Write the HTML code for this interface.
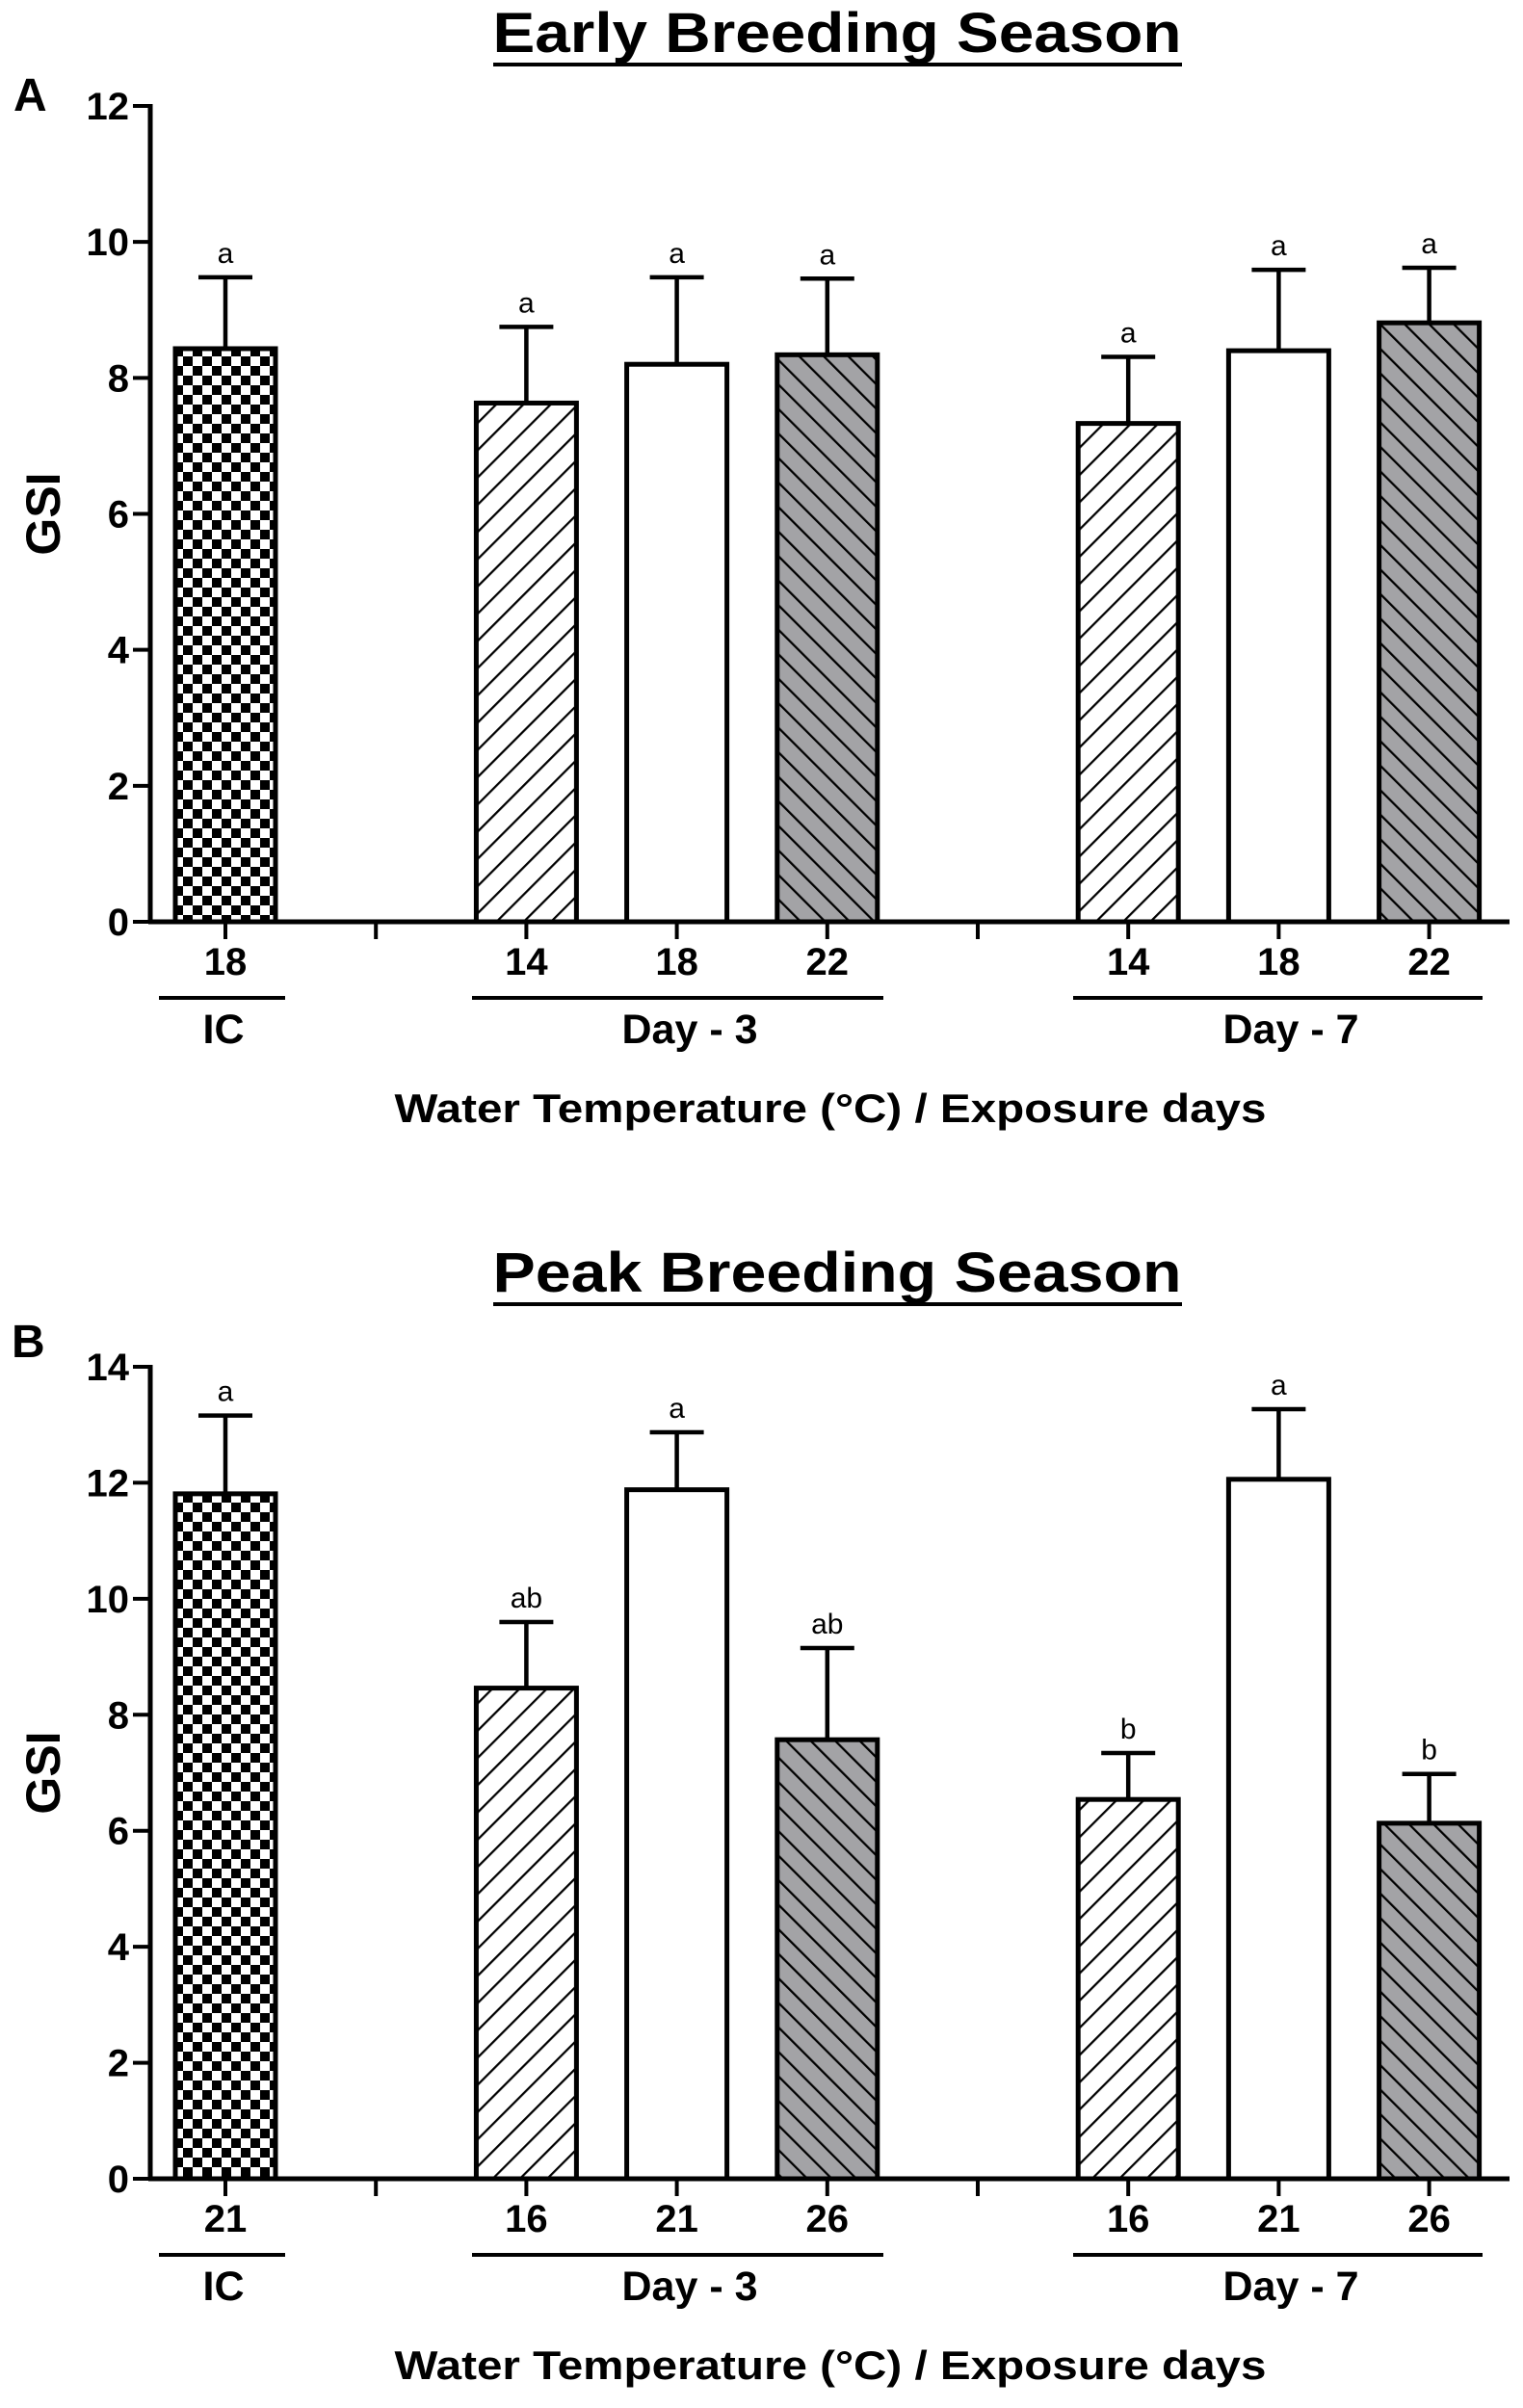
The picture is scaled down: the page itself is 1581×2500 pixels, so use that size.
<!DOCTYPE html>
<html><head><meta charset="utf-8"><style>
html,body{margin:0;padding:0;background:#fff;}
svg{display:block;font-family:"Liberation Sans",Arial,sans-serif;}
</style></head><body>
<svg id="fig" width="1581" height="2500" viewBox="0 0 1581 2500">
<defs>
<pattern id="checker" width="20" height="20" patternUnits="userSpaceOnUse">
<rect width="20" height="20" fill="#fff"/><rect width="10" height="10" fill="#000"/><rect x="10" y="10" width="10" height="10" fill="#000"/>
</pattern>
<pattern id="fwd" width="20" height="20" patternUnits="userSpaceOnUse" patternTransform="rotate(45)">
<rect width="20" height="20" fill="#fff"/><line x1="0" y1="0" x2="0" y2="20" stroke="#000" stroke-width="4.5"/>
</pattern>
<pattern id="bwd" width="18" height="18" patternUnits="userSpaceOnUse" patternTransform="rotate(-45)">
<rect width="18" height="18" fill="#a3a3a6"/><line x1="0" y1="0" x2="0" y2="18" stroke="#000" stroke-width="4.5"/>
</pattern>
</defs>
</svg>
<script>
// Panel A data
const catsA = ["18","14","18","22","14","18","22"];
const valsA = [8.43, 7.63, 8.2, 8.34, 7.33, 8.4, 8.81];
const errA = [9.48, 8.75, 9.48, 9.46, 8.31, 9.59, 9.62];
const lettersA = ["a","a","a","a","a","a","a"];
const ticksA = [0,2,4,6,8,10,12];
// Panel B data
const catsB = ["21","16","21","26","16","21","26"];
const valsB = [11.81, 8.46, 11.88, 7.57, 6.54, 12.06, 6.13];
const errB = [13.16, 9.6, 12.87, 9.15, 7.34, 13.27, 6.98];
const lettersB = ["a","ab","a","ab","b","a","b"];
const ticksB = [0,2,4,6,8,10,12,14];
const slots = [0,2,3,4,6,7,8];
const fills = ["url(#checker)","url(#fwd)","#fff","url(#bwd)","url(#fwd)","#fff","url(#bwd)"];

const NS="http://www.w3.org/2000/svg";
const svg=document.getElementById('fig');
function mk(tag,attrs,parent,text){const e=document.createElementNS(NS,tag);for(const k in attrs)e.setAttribute(k,attrs[k]);if(text!==undefined)e.textContent=text;(parent||svg).appendChild(e);return e;}

function panel(o){
  const g=mk('g',{});
  
  
  const x0=156, xStep=156.2, xFirst=234;
  const yMax=o.ticks[o.ticks.length-1];
  const ys=v=>o.y0-(o.y0-o.yTop)*v/yMax;
  const xs=i=>xFirst+i*xStep;
  const t=mk('text',{x:869,y:o.titleY,'text-anchor':'middle','font-size':58,'font-weight':'bold',textLength:715,lengthAdjust:'spacingAndGlyphs'},g,o.title);
  
  
  const u=mk('line',{x1:512,x2:1227,y1:o.titleY+13,y2:o.titleY+13,stroke:'#000','stroke-width':4},g);
  
  
  const pl=mk('text',{x:o.plx,y:o.ply,'font-size':48,'font-weight':'bold'},g,o.panelLabel);
  
  
  for(let i=0;i<o.vals.length;i++){
    const cx=xs(slots[i]);
    const top=ys(o.vals[i]), et=ys(o.err[i]);
    const el=mk('line',{x1:cx,x2:cx,y1:top,y2:et,stroke:'#000','stroke-width':4.5},g);
    
    
    const ec=mk('line',{x1:cx-28,x2:cx+28,y1:et,y2:et,stroke:'#000','stroke-width':4.5},g);
    
    
    const r=mk('rect',{x:cx-52,y:top,width:104,height:o.y0-top,fill:fills[i],stroke:'#000','stroke-width':5},g);
    
    
    const lt=mk('text',{x:cx,y:et-15,'text-anchor':'middle','font-size':30},g,o.letters[i]);
    
    
    const tl=mk('text',{x:cx,y:o.y0+55,'text-anchor':'middle','font-size':40,'font-weight':'bold'},g,o.cats[i]);
    
    
  }
  const ya=mk('line',{x1:x0,x2:x0,y1:o.yTop-2,y2:o.y0+2,stroke:'#000','stroke-width':5},g);
  
  
  const xa=mk('line',{x1:x0-2,x2:1567,y1:o.y0,y2:o.y0,stroke:'#000','stroke-width':5},g);
  
  
  for(const v of o.ticks){
    const y=ys(v);
    const tk=mk('line',{x1:138,x2:x0,y1:y,y2:y,stroke:'#000','stroke-width':4},g);
    
    
    const tx=mk('text',{x:134,y:y+14,'text-anchor':'end','font-size':40,'font-weight':'bold'},g,String(v));
    
    
  }
  for(let s=0;s<9;s++){
    const xt=mk('line',{x1:xs(s),x2:xs(s),y1:o.y0,y2:o.y0+18,stroke:'#000','stroke-width':4},g);
    
    
  }
  const gsi=mk('text',{x:0,y:0,'text-anchor':'middle','font-size':50,'font-weight':'bold',transform:'translate(62,'+((o.y0+o.yTop)/2)+') rotate(-90)'},g,'GSI');
  
  
  const groups=[[165,296,'IC',232],[490,917,'Day - 3',716],[1114,1539,'Day - 7',1340]];
  for(const gr of groups){
    const l=mk('line',{x1:gr[0],x2:gr[1],y1:o.y0+79,y2:o.y0+79,stroke:'#000','stroke-width':4},g);
    
    
    const gt=mk('text',{x:gr[3],y:o.y0+126,'text-anchor':'middle','font-size':43,'font-weight':'bold'},g,gr[2]);
    
    
  }
  const xt=mk('text',{x:862,y:o.y0+208,'text-anchor':'middle','font-size':42,'font-weight':'bold',textLength:905,lengthAdjust:'spacingAndGlyphs'},g,'Water Temperature (\u00B0C) / Exposure days');
  
  
}
panel({name:'panel-a-early',title:'Early Breeding Season',titleY:54,panelLabel:'A',plx:14,ply:115,y0:957,yTop:110,ticks:ticksA,vals:valsA,err:errA,cats:catsA,letters:lettersA});
panel({name:'panel-b-peak',title:'Peak Breeding Season',titleY:1341,panelLabel:'B',plx:12,ply:1409,y0:2262,yTop:1419,ticks:ticksB,vals:valsB,err:errB,cats:catsB,letters:lettersB});
</script>
</body></html>
